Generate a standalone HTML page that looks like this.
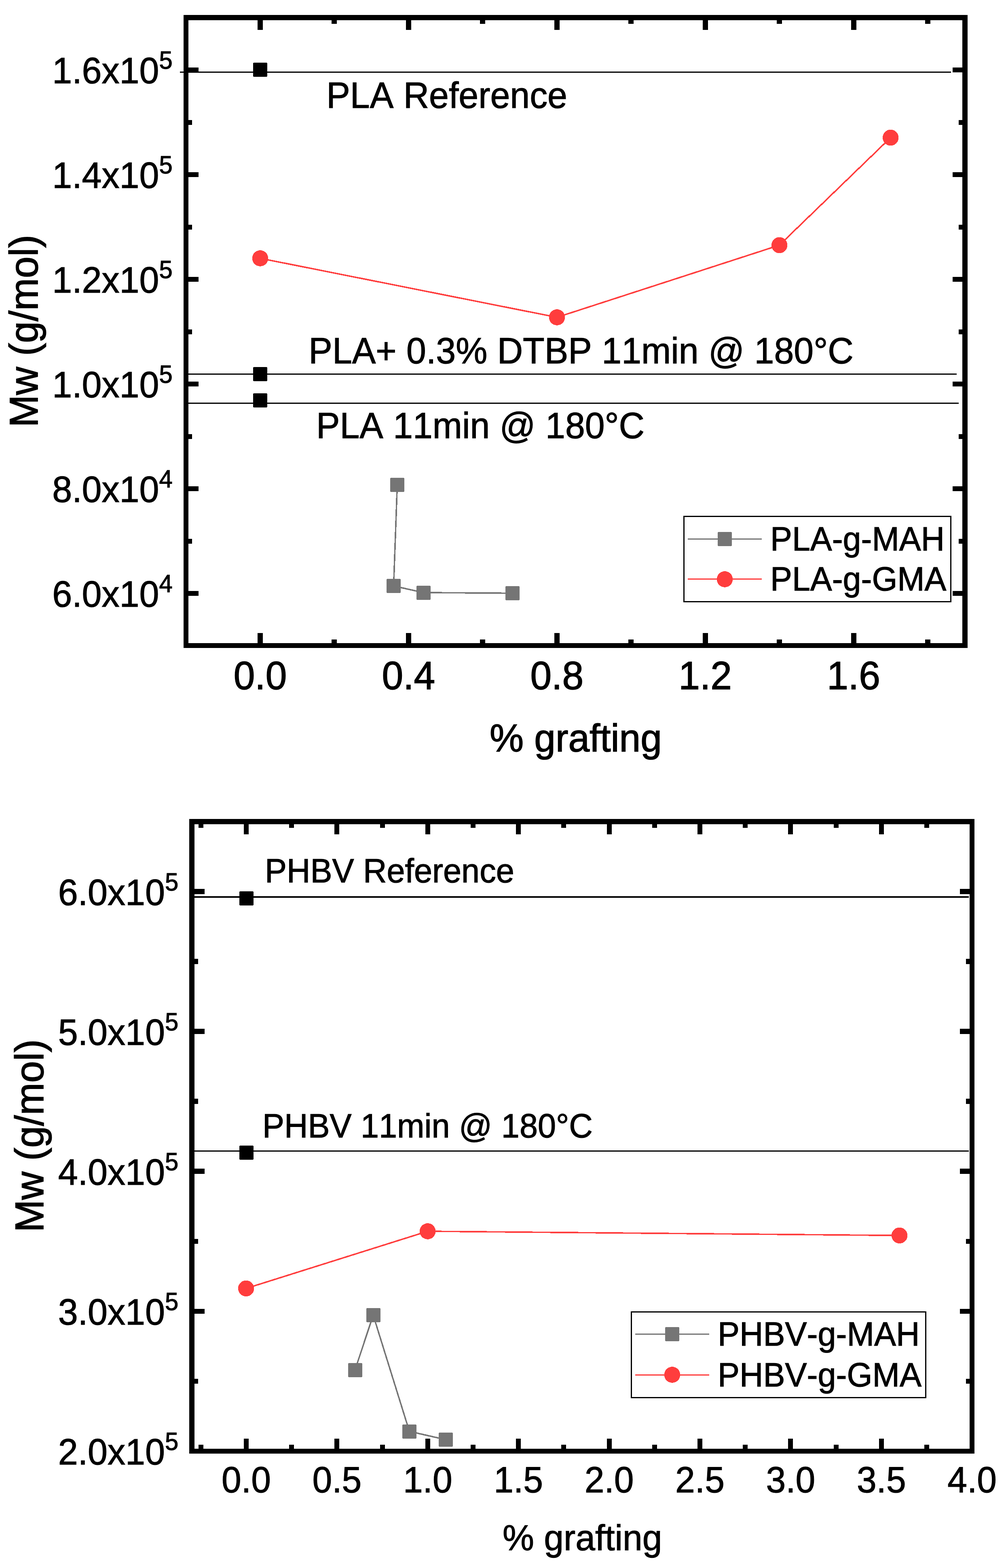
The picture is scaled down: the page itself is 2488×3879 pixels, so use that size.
<!DOCTYPE html>
<html lang="en"><head><meta charset="utf-8"><title>Mw vs % grafting</title>
<style>html,body{margin:0;padding:0;background:#fff}body{width:2488px;height:3879px;overflow:hidden}svg{display:block}text{font-family:'Liberation Sans', sans-serif;fill:#000;stroke:#000;stroke-width:1.2px;font-kerning:none;white-space:pre}.b{stroke-width:1.6px}</style></head><body>
<svg width="2488" height="3879" viewBox="0 0 2488 3879" shape-rendering="crispEdges" text-rendering="geometricPrecision">
<rect width="2488" height="3879" fill="#fff"/>
<g class="plot">
<rect x="445" y="177" width="1907" height="3" fill="#000"/>
<rect x="460" y="924" width="1906" height="3" fill="#000"/>
<rect x="460" y="996" width="1911" height="3" fill="#000"/>
<path fill="#000" fill-rule="evenodd" d="M454 37H2393V1603H454Z M466 50V1591H2380V50Z"/>
<path fill="#000" d="M637 1591V1566h13V1591Z M637 50V74h13V50Z M1003.88 1591V1566h13V1591Z M1003.88 50V74h13V50Z M1370.76 1591V1566h13V1591Z M1370.76 50V74h13V50Z M1737.64 1591V1566h13V1591Z M1737.64 50V74h13V50Z M2104.52 1591V1566h13V1591Z M2104.52 50V74h13V50Z M820.44 1591V1582h13V1591Z M820.44 50V59h13V50Z M1187.32 1591V1582h13V1591Z M1187.32 50V59h13V50Z M1554.2 1591V1582h13V1591Z M1554.2 50V59h13V50Z M1921.08 1591V1582h13V1591Z M1921.08 50V59h13V50Z M2287.96 1591V1582h13V1591Z M2287.96 50V59h13V50Z M466 1462H491v12H466Z M2380 1462H2356v12H2380Z M466 1203H491v12H466Z M2380 1203H2356v12H2380Z M466 944H491v12H466Z M2380 944H2356v12H2380Z M466 685H491v12H466Z M2380 685H2356v12H2380Z M466 426H491v12H466Z M2380 426H2356v12H2380Z M466 167H491v12H466Z M2380 167H2356v12H2380Z M466 1332.5H475v12H466Z M2380 1332.5H2371v12H2380Z M466 1073.5H475v12H466Z M2380 1073.5H2371v12H2380Z M466 814.5H475v12H466Z M2380 814.5H2371v12H2380Z M466 555.5H475v12H466Z M2380 555.5H2371v12H2380Z M466 296.5H475v12H466Z M2380 296.5H2371v12H2380Z"/>
<polyline points="982.5,1199.5 973.5,1449.5 1047,1466 1267.5,1467.5" fill="none" stroke="#757575" stroke-width="3.6"/>
<path fill="#757575" d="M966 1182H999V1183H1000V1216H999V1217H966V1216H965V1183H966Z"/>
<path fill="#757575" d="M957 1432H990V1433H991V1466H990V1467H957V1466H956V1433H957Z"/>
<path fill="#757575" d="M1031 1449H1064V1450H1065V1483H1064V1484H1031V1483H1030V1450H1031Z"/>
<path fill="#757575" d="M1251 1450H1284V1451H1285V1484H1284V1485H1251V1484H1250V1451H1251Z"/>
<polyline points="643.5,639 1377.5,785 1927.6,606.5 2202.6,340.5" fill="none" stroke="#ff3d3d" stroke-width="3.6"/>
<circle cx="643.5" cy="639" r="19.8" fill="#ff3d3d"/>
<circle cx="1377.5" cy="785" r="19.8" fill="#ff3d3d"/>
<circle cx="1927.6" cy="606.5" r="19.8" fill="#ff3d3d"/>
<circle cx="2202.6" cy="340.5" r="19.8" fill="#ff3d3d"/>
<path fill="#000" d="M627 155H660V156H661V189H660V190H627V189H626V156H627Z"/>
<path fill="#000" d="M627 908H660V909H661V942H660V943H627V942H626V909H627Z"/>
<path fill="#000" d="M627 973H660V974H661V1007H660V1008H627V1007H626V974H627Z"/>
<rect x="1691.5" y="1277.5" width="659.5" height="211" fill="#fff" stroke="#000" stroke-width="3"/>
<rect x="1701" y="1332" width="183" height="3" fill="#757575"/>
<path fill="#757575" d="M1776 1316H1809V1317H1810V1350H1809V1351H1776V1350H1775V1317H1776Z"/>
<rect x="1701" y="1431" width="183" height="3" fill="#ff3d3d"/>
<circle cx="1792.5" cy="1433" r="19.8" fill="#ff3d3d"/>
<text transform="translate(1905 1362) scale(1 1.035)" font-size="80.8">PLA-g-MAH</text>
<text transform="translate(1905 1461) scale(1 1.035)" font-size="80.8">PLA-g-GMA</text>
<text transform="translate(807.2 266.6) scale(1 1.035)" font-size="87.85">PLA Reference</text>
<text transform="translate(763.3 899) scale(1 1.035)" font-size="87.85">PLA+ 0.3% DTBP 11min @ 180°C</text>
<text transform="translate(782 1083.8) scale(1 1.035)" font-size="87.75">PLA 11min @ 180°C</text>
<text transform="translate(129.22 206) scale(1 1.035)" font-size="88">1.6x10<tspan dx="0.10" dy="-34.78" font-size="59.8">5</tspan></text>
<text transform="translate(129.22 465) scale(1 1.035)" font-size="88">1.4x10<tspan dx="0.10" dy="-34.78" font-size="59.8">5</tspan></text>
<text transform="translate(129.22 724) scale(1 1.035)" font-size="88">1.2x10<tspan dx="0.10" dy="-34.78" font-size="59.8">5</tspan></text>
<text transform="translate(129.22 983) scale(1 1.035)" font-size="88">1.0x10<tspan dx="0.10" dy="-34.78" font-size="59.8">5</tspan></text>
<text transform="translate(129.22 1242) scale(1 1.035)" font-size="88">8.0x10<tspan dx="0.10" dy="-34.78" font-size="59.8">4</tspan></text>
<text transform="translate(129.22 1501) scale(1 1.035)" font-size="88">6.0x10<tspan dx="0.10" dy="-34.78" font-size="59.8">4</tspan></text>
<text transform="translate(643.5 1704.6) scale(1 1.035)" font-size="94.7" text-anchor="middle" class="b">0.0</text>
<text transform="translate(1010.38 1704.6) scale(1 1.035)" font-size="94.7" text-anchor="middle" class="b">0.4</text>
<text transform="translate(1377.26 1704.6) scale(1 1.035)" font-size="94.7" text-anchor="middle" class="b">0.8</text>
<text transform="translate(1744.14 1704.6) scale(1 1.035)" font-size="94.7" text-anchor="middle" class="b">1.2</text>
<text transform="translate(2111.02 1704.6) scale(1 1.035)" font-size="94.7" text-anchor="middle" class="b">1.6</text>
<text transform="translate(1210.9 1859) scale(1 1.02)" font-size="94.6" class="b">% grafting</text>
<text transform="translate(92.7 1057.1) rotate(-90) scale(1 1.03)" font-size="96.3" class="b">Mw (g/mol)</text>
</g>
<g class="plot">
<rect x="475" y="2217" width="1921" height="3.5" fill="#000"/>
<rect x="475" y="2846" width="1921" height="3" fill="#000"/>
<path fill="#000" fill-rule="evenodd" d="M468 2026H2410V3596H468Z M481 2039V3584H2398V2039Z"/>
<path fill="#000" d="M603 3584V3559h12V3584Z M603 2039V2064h12V2039Z M827.4 3584V3559h12V3584Z M827.4 2039V2064h12V2039Z M1051.8 3584V3559h12V3584Z M1051.8 2039V2064h12V2039Z M1276.2 3584V3559h12V3584Z M1276.2 2039V2064h12V2039Z M1500.6 3584V3559h12V3584Z M1500.6 2039V2064h12V2039Z M1725 3584V3559h12V3584Z M1725 2039V2064h12V2039Z M1949.4 3584V3559h12V3584Z M1949.4 2039V2064h12V2039Z M2173.8 3584V3559h12V3584Z M2173.8 2039V2064h12V2039Z M490.8 3584V3574h12V3584Z M490.8 2039V2048h12V2039Z M715.2 3584V3574h12V3584Z M715.2 2039V2048h12V2039Z M939.6 3584V3574h12V3584Z M939.6 2039V2048h12V2039Z M1164 3584V3574h12V3584Z M1164 2039V2048h12V2039Z M1388.4 3584V3574h12V3584Z M1388.4 2039V2048h12V2039Z M1612.8 3584V3574h12V3584Z M1612.8 2039V2048h12V2039Z M1837.2 3584V3574h12V3584Z M1837.2 2039V2048h12V2039Z M2061.6 3584V3574h12V3584Z M2061.6 2039V2048h12V2039Z M2286 3584V3574h12V3584Z M2286 2039V2048h12V2039Z M481 3237.55H506v12.5H481Z M2398 3237.55H2374v12.5H2398Z M481 2891.45H506v12.5H481Z M2398 2891.45H2374v12.5H2398Z M481 2545.35H506v12.5H481Z M2398 2545.35H2374v12.5H2398Z M481 2199.25H506v12.5H481Z M2398 2199.25H2374v12.5H2398Z M481 3410.6H490v12.5H481Z M2398 3410.6H2389v12.5H2398Z M481 3064.5H490v12.5H481Z M2398 3064.5H2389v12.5H2398Z M481 2718.4H490v12.5H481Z M2398 2718.4H2389v12.5H2398Z M481 2372.3H490v12.5H481Z M2398 2372.3H2389v12.5H2398Z"/>
<polyline points="878,3389 923,3253.5 1012.5,3541 1102.5,3561.5" fill="none" stroke="#757575" stroke-width="3.6"/>
<path fill="#757575" d="M862 3372H895V3373H896V3406H895V3407H862V3406H861V3373H862Z"/>
<path fill="#757575" d="M907 3236H940V3237H941V3270H940V3271H907V3270H906V3237H907Z"/>
<path fill="#757575" d="M996 3524H1029V3525H1030V3558H1029V3559H996V3558H995V3525H996Z"/>
<path fill="#757575" d="M1086 3544H1119V3545H1120V3578H1119V3579H1086V3578H1085V3545H1086Z"/>
<polyline points="608.6,3187.4 1057.6,3046 2224.6,3056.4" fill="none" stroke="#ff3d3d" stroke-width="3.6"/>
<circle cx="608.6" cy="3187.4" r="19.8" fill="#ff3d3d"/>
<circle cx="1057.6" cy="3046" r="19.8" fill="#ff3d3d"/>
<circle cx="2224.6" cy="3056.4" r="19.8" fill="#ff3d3d"/>
<path fill="#000" d="M593 2205H626V2206H627V2239H626V2240H593V2239H592V2206H593Z"/>
<path fill="#000" d="M593 2834H626V2835H627V2868H626V2869H593V2868H592V2835H593Z"/>
<rect x="1561.5" y="3245.5" width="728" height="212" fill="#fff" stroke="#000" stroke-width="3"/>
<rect x="1571" y="3299" width="183" height="3" fill="#757575"/>
<path fill="#757575" d="M1646 3283H1679V3284H1680V3317H1679V3318H1646V3317H1645V3284H1646Z"/>
<rect x="1571" y="3400" width="183" height="3" fill="#ff3d3d"/>
<circle cx="1662.5" cy="3401" r="19.8" fill="#ff3d3d"/>
<text transform="translate(1775 3329) scale(1 1.035)" font-size="81">PHBV-g-MAH</text>
<text transform="translate(1775 3430) scale(1 1.035)" font-size="81">PHBV-g-GMA</text>
<text transform="translate(654.9 2182.8) scale(1 1.035)" font-size="81">PHBV Reference</text>
<text transform="translate(648.9 2813.8) scale(1 1.035)" font-size="81">PHBV 11min @ 180°C</text>
<text transform="translate(143.72 2238.5) scale(1 1.035)" font-size="88">6.0x10<tspan dx="0.00" dy="-34.78" font-size="59.8">5</tspan></text>
<text transform="translate(143.72 2584.6) scale(1 1.035)" font-size="88">5.0x10<tspan dx="0.00" dy="-34.78" font-size="59.8">5</tspan></text>
<text transform="translate(143.72 2930.7) scale(1 1.035)" font-size="88">4.0x10<tspan dx="0.00" dy="-34.78" font-size="59.8">5</tspan></text>
<text transform="translate(143.72 3276.8) scale(1 1.035)" font-size="88">3.0x10<tspan dx="0.00" dy="-34.78" font-size="59.8">5</tspan></text>
<text transform="translate(143.72 3622.9) scale(1 1.035)" font-size="88">2.0x10<tspan dx="0.00" dy="-34.78" font-size="59.8">5</tspan></text>
<text transform="translate(609 3691.6) scale(1 1.035)" font-size="87.6" text-anchor="middle">0.0</text>
<text transform="translate(833.4 3691.6) scale(1 1.035)" font-size="87.6" text-anchor="middle">0.5</text>
<text transform="translate(1057.8 3691.6) scale(1 1.035)" font-size="87.6" text-anchor="middle">1.0</text>
<text transform="translate(1282.2 3691.6) scale(1 1.035)" font-size="87.6" text-anchor="middle">1.5</text>
<text transform="translate(1506.6 3691.6) scale(1 1.035)" font-size="87.6" text-anchor="middle">2.0</text>
<text transform="translate(1731 3691.6) scale(1 1.035)" font-size="87.6" text-anchor="middle">2.5</text>
<text transform="translate(1955.4 3691.6) scale(1 1.035)" font-size="87.6" text-anchor="middle">3.0</text>
<text transform="translate(2179.8 3691.6) scale(1 1.035)" font-size="87.6" text-anchor="middle">3.5</text>
<text transform="translate(2404.2 3691.6) scale(1 1.035)" font-size="87.6" text-anchor="middle">4.0</text>
<text transform="translate(1243.1 3835) scale(1 1.02)" font-size="87.6">% grafting</text>
<text transform="translate(106.7 3048.3) rotate(-90) scale(1 1.03)" font-size="96.5" class="b">Mw (g/mol)</text>
</g>
</svg></body></html>
